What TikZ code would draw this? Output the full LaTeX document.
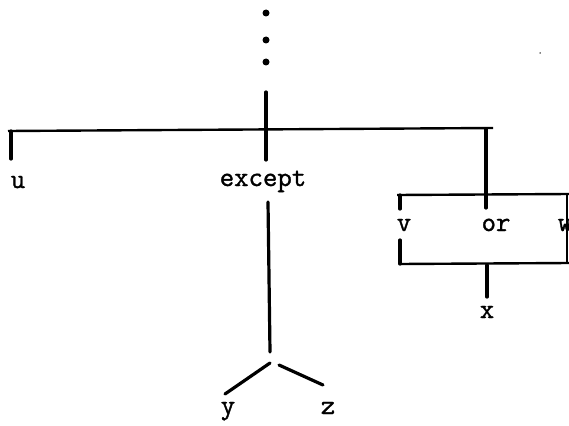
\documentclass[tikz,border=0pt]{standalone}
\usepackage{fontspec}
\newfontfamily\tw{Latin Modern Mono}[FakeBold=1.2]
\begin{document}
\begin{tikzpicture}[x=1pt,y=-1pt,
  lbl/.style={font=\tw\fontsize{28}{28}\selectfont, inner sep=0pt, anchor=base},
  vline/.style={line width=3.2pt, line cap=round},
  hline/.style={line width=2.4pt},
  dotmark/.style={circle, fill=black, inner sep=0pt, minimum size=7pt}]
\path[use as bounding box, clip] (0,0) rectangle (569,425);
% dots
\node[dotmark] (d1) at (266,13) {};
\node[dotmark] (d2) at (266,40) {};
\node[dotmark] (d3) at (266,62) {};
\node[circle, fill=black, inner sep=0pt, minimum size=1.5pt] (spk) at (540,53) {};
% top trunk
\coordinate (t0) at (266,92);
\coordinate (t1) at (266,160);
\draw[vline] (t0) -- (t1);
% main horizontal
\coordinate (hL) at (8,131);
\coordinate (hR) at (493,128);
\draw[hline] (hL) -- (hR);
% u branch
\coordinate (u0) at (11,131);
\coordinate (u1) at (11,159);
\draw[vline] (u0) -- (u1);
\node[lbl] (u) at (18,188) {u};
% except
\node[lbl] (ex) at (263,186) {except};
\coordinate (e0) at (268,202);
\coordinate (e1) at (270,352);
\draw[vline] (e0) -- (e1);
\coordinate (yb0) at (270,363);
\coordinate (yb1) at (225,394);
\coordinate (zb0) at (279,365);
\coordinate (zb1) at (323,385);
\draw[vline] (yb0) -- (yb1);
\draw[vline] (zb0) -- (zb1);
\node[lbl] (y) at (228,414) {y};
\node[lbl] (z) at (328,414) {z};
% or box
\coordinate (r0) at (486,129);
\coordinate (r1) at (486,208);
\draw[vline] (r0) -- (r1);
\coordinate (bTL) at (397,195);
\coordinate (bTR) at (569,194);
\draw[hline] (bTL) -- (bTR);
\coordinate (v0) at (400,195);
\coordinate (v1) at (400,209);
\draw[vline] (v0) -- (v1);
\node[lbl] (v) at (404,231) {v};
\node[lbl] (or) at (496,231) {or};
\node[lbl] (w) at (565,231) {w};
\coordinate (rs0) at (567,194);
\coordinate (rs1) at (567,263);
\draw[hline] (rs0) -- (rs1);
\coordinate (vl0) at (400,240);
\coordinate (vl1) at (400,264);
\draw[vline] (vl0) -- (vl1);
\coordinate (bBL) at (400,264);
\coordinate (bBR) at (569,263);
\draw[hline] (bBL) -- (bBR);
\coordinate (x0) at (487,265);
\coordinate (x1) at (487,297);
\draw[vline] (x0) -- (x1);
\node[lbl] (x) at (487,318) {x};
\end{tikzpicture}
\end{document}
